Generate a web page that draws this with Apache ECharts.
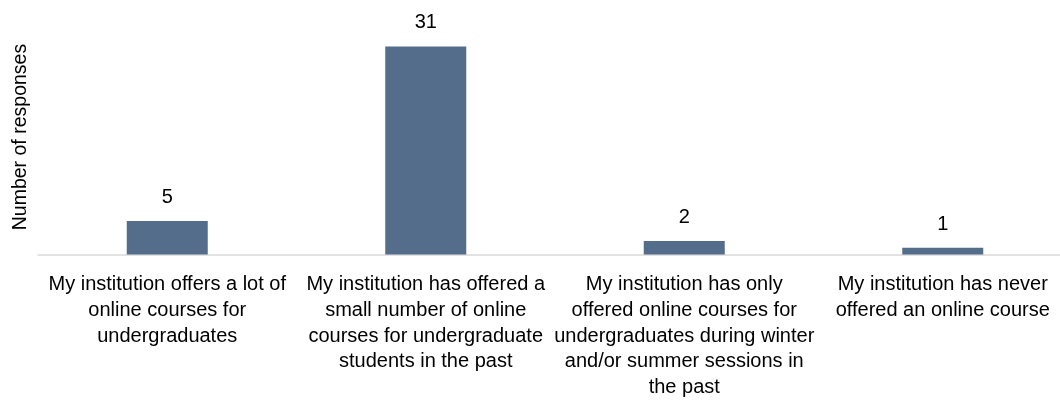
<!DOCTYPE html>
<html>
<head>
<meta charset="utf-8">
<script src="https://cdn.jsdelivr.net/npm/echarts@6/dist/echarts.min.js"></script>
<style>
html,body{margin:0;padding:0;background:#fff;overflow:hidden;width:1060px;height:407px;}
#chart{width:1072px;height:407px;}
</style>
</head>
<body>
<div id="chart"></div>
<script>
const categories = [
  "My institution offers a lot of\nonline courses for\nundergraduates",
  "My institution has offered a\nsmall number of online\ncourses for undergraduate\nstudents in the past",
  "My institution has only\noffered online courses for\nundergraduates during winter\nand/or summer sessions in\nthe past",
  "My institution has never\noffered an online course"
];
const responses = [5, 31, 2, 1];
const yAxisName = "Number of responses";

const FONT = '"Liberation Sans", Arial, sans-serif';
const chart = echarts.init(document.getElementById('chart'));
chart.setOption({
  animation: false,
  grid: { left: 38, top: 19.6, right: 0, height: 234.9, containLabel: false },
  xAxis: {
    type: 'category',
    data: categories,
    axisLine: { show: true, lineStyle: { color: '#d9d9d9', width: 1.5 } },
    axisTick: { show: false },
    axisLabel: {
      interval: 0,
      color: '#000',
      fontFamily: FONT,
      fontSize: 20,
      lineHeight: 25.6,
      margin: 17.5
    }
  },
  yAxis: {
    type: 'value',
    min: 0,
    max: 35,
    name: yAxisName,
    nameLocation: 'middle',
    nameGap: 7,
    nameTextStyle: { color: '#000', fontFamily: FONT, fontSize: 19.5 },
    axisLine: { show: false },
    axisTick: { show: false },
    axisLabel: { show: false },
    splitLine: { show: false }
  },
  series: [{
    type: 'bar',
    data: responses,
    barWidth: 81,
    itemStyle: { color: '#546d8a' },
    label: {
      show: true,
      position: 'top',
      distance: 13.5,
      color: '#000',
      fontFamily: FONT,
      fontSize: 20
    }
  }]
});
</script>
</body>
</html>
